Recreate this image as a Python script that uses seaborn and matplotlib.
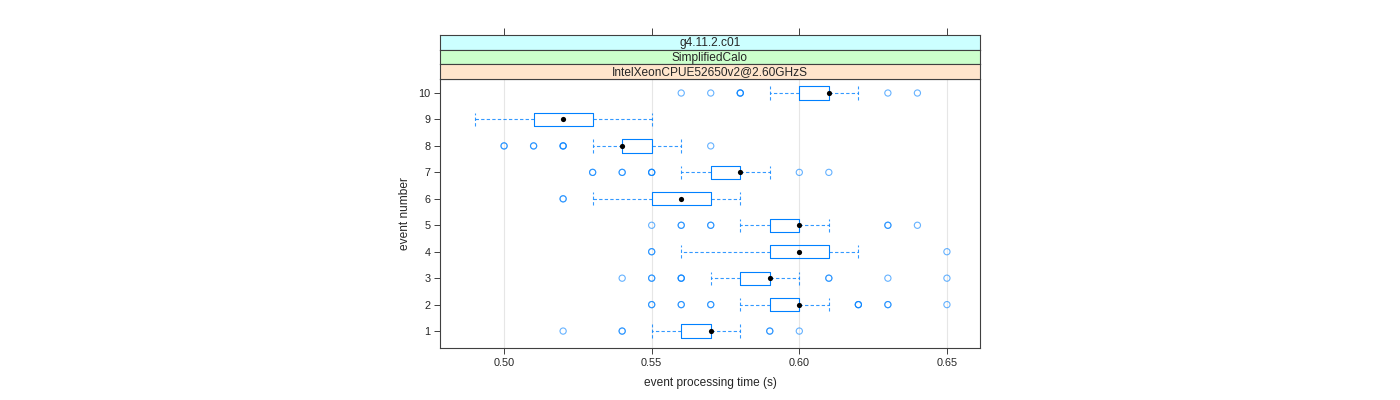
import numpy as np
import pandas as pd
import seaborn as sns
import matplotlib.pyplot as plt

# box statistics per event
eventos = [1, 2, 3, 4, 5, 6, 7, 8, 9, 10]
bigode_inf = [0.55, 0.58, 0.57, 0.56, 0.58, 0.53, 0.56, 0.53, 0.49, 0.59]
q1 = [0.56, 0.59, 0.58, 0.59, 0.59, 0.55, 0.57, 0.54, 0.51, 0.60]
mediana = [0.57, 0.60, 0.59, 0.60, 0.60, 0.56, 0.58, 0.54, 0.52, 0.61]
q3 = [0.57, 0.60, 0.59, 0.61, 0.60, 0.57, 0.58, 0.55, 0.53, 0.61]
bigode_sup = [0.58, 0.61, 0.60, 0.62, 0.61, 0.58, 0.59, 0.56, 0.55, 0.62]
# outliers (repeated values = overplotted points)
outliers = [
    [0.52, 0.54, 0.54, 0.59, 0.59, 0.60],
    [0.55, 0.55, 0.56, 0.56, 0.57, 0.57, 0.62, 0.62, 0.62, 0.63, 0.63, 0.65],
    [0.54, 0.55, 0.55, 0.56, 0.56, 0.56, 0.61, 0.61, 0.63, 0.65],
    [0.55, 0.55, 0.65],
    [0.55, 0.56, 0.56, 0.57, 0.57, 0.63, 0.63, 0.64],
    [0.52, 0.52],
    [0.53, 0.53, 0.54, 0.54, 0.55, 0.55, 0.55, 0.60, 0.61],
    [0.50, 0.50, 0.51, 0.51, 0.52, 0.52, 0.52, 0.57],
    [],
    [0.56, 0.57, 0.58, 0.58, 0.58, 0.63, 0.64],
]
strips = ["g4.11.2.c01", "SimplifiedCalo", "IntelXeonCPUE52650v2@2.60GHzS"]
cores_strip = ["#ccffff", "#ccffcc", "#ffe5cc"]
xticks = [0.50, 0.55, 0.60, 0.65]

sns.set_style("white")
plt.rcParams['font.family'] = ['Liberation Sans', 'DejaVu Sans']

azul = "#0080ff"
fig = plt.figure(figsize=(14, 4), dpi=100)
ax = fig.add_axes([440/1400, 52/400, 540/1400, 269/400])

for x in xticks:
    ax.axvline(x, color="#e6e6e6", lw=0.8, zorder=0)

stats = []
for i in range(len(eventos)):
    stats.append({"whislo": bigode_inf[i], "q1": q1[i], "med": mediana[i],
                  "q3": q3[i], "whishi": bigode_sup[i], "fliers": []})

ax.bxp(stats, positions=eventos, orientation="horizontal", widths=0.5,
       capwidths=0.5, showfliers=False, manage_ticks=False,
       boxprops=dict(color=azul, lw=0.8),
       whiskerprops=dict(color=azul, lw=0.8, ls=(0, (3, 2)), alpha=0.8),
       capprops=dict(color=azul, lw=0.8, ls=(0, (3, 2)), alpha=0.8),
       medianprops=dict(lw=0))

df_out = pd.DataFrame([(v, e) for e, vals in zip(eventos, outliers) for v in vals],
                      columns=["tempo", "evento"])
sns.scatterplot(data=df_out, x="tempo", y="evento", ax=ax, marker="o",
                facecolor="none", edgecolor=azul, linewidth=0.8, s=20, alpha=0.6)
df_med = pd.DataFrame({"tempo": mediana, "evento": eventos})
sns.scatterplot(data=df_med, x="tempo", y="evento", ax=ax, color="black",
                s=14, linewidth=0, zorder=5)

ax.set_xlim(0.4783, 0.6612)
ax.set_ylim(0.36, 10.53)
ax.set_xticks(xticks)
ax.set_xticklabels([f"{x:.2f}" for x in xticks])
ax.set_yticks(eventos)
ax.set_yticklabels([str(e) for e in eventos])
ax.tick_params(axis="both", labelsize=7.8, length=4, width=0.7, color="#404040",
               bottom=True, left=True, pad=3)
ax.set_xlabel("event processing time (s)", fontsize=8.6, labelpad=7)
ax.set_ylabel("event number", fontsize=8.6, labelpad=5)
for s in ax.spines.values():
    s.set_color("#404040")
    s.set_linewidth(0.8)

# strips
topos = [35, 49.7, 64.3]
for j, (txt, cor) in enumerate(zip(strips, cores_strip)):
    y0 = topos[j]
    y1 = topos[j + 1] if j < 2 else 79
    sax = fig.add_axes([440/1400, (400 - y1)/400, 540/1400, (y1 - y0)/400])
    sax.set_facecolor(cor)
    sax.set_xlim(ax.get_xlim())
    sax.set_yticks([])
    sax.text(0.5, 0.45, txt, transform=sax.transAxes, ha="center", va="center",
             fontsize=8.6)
    for s in sax.spines.values():
        s.set_color("#404040")
        s.set_linewidth(0.8)
    if j == 0:
        sax.set_xticks(xticks)
        sax.tick_params(axis="x", top=True, bottom=False, labeltop=False,
                        labelbottom=False, length=5, width=0.7, color="#404040")
    else:
        sax.set_xticks([])

fig.savefig("out.png", dpi=100)
